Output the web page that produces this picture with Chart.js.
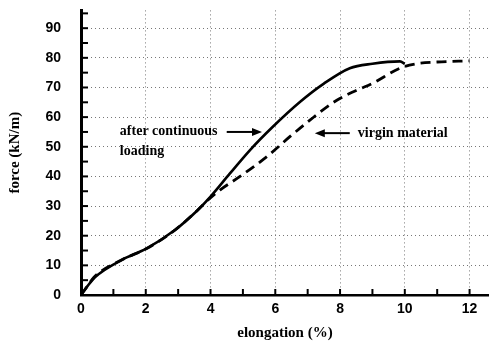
<!DOCTYPE html>
<html>
<head>
<meta charset="utf-8">
<script src="https://cdn.jsdelivr.net/npm/chart.js@4"></script>
<style>
  html, body { margin: 0; padding: 0; background: #fff; }
  #wrap { width: 489px; height: 345px; }
</style>
</head>
<body>
<div id="wrap"><canvas id="grafico"></canvas></div>
<script>
// values
var elongAfter = [0, 0.2, 0.43, 1.25, 2.03, 2.9, 3.6, 4.0, 4.6, 5.22, 5.9, 6.76, 7.5, 8.3, 9.0, 9.85, 10.0];
var forceAfter = [0, 3, 6, 11.8, 15.7, 21.9, 28.6, 33.2, 41, 48.9, 56.5, 65.1, 71.3, 76.5, 78, 78.8, 78];

var elongVirgin = [0, 0.2, 0.4, 1.25, 2.03, 2.9, 3.6, 3.95, 4.29, 4.9, 5.73, 6.45, 7.07, 7.9, 8.5, 9.0, 9.85, 10.36, 11.0, 12.0];
var forceVirgin = [0, 3, 6, 11.8, 15.7, 21.9, 28.6, 32.3, 35.4, 39.9, 46.6, 53.4, 59, 65.7, 69, 71.4, 76.5, 78, 78.6, 79];

var xTickLabels = [0, 2, 4, 6, 8, 10, 12];
var yTickLabels = [0, 10, 20, 30, 40, 50, 60, 70, 80, 90];

function toPoints(xs, ys) {
    var out = [];
    xs.forEach(function (x, i) { out.push({ x: x, y: ys[i] }); });
    return out;
}

// inward tick marks + annotations
var extra = {
    id: 'extra',
    afterDraw: function (chart) {
        var ctx = chart.ctx;
        var xs = chart.scales.x, ys = chart.scales.y;
        var area = chart.chartArea;
        ctx.save();
        ctx.strokeStyle = '#000';
        ctx.lineWidth = 2;
        xs.ticks.forEach(function (t) {
            var px = xs.getPixelForValue(t.value);
            ctx.beginPath();
            ctx.moveTo(px, area.bottom);
            ctx.lineTo(px, area.bottom - 6);
            ctx.stroke();
        });
        ys.ticks.forEach(function (t) {
            var py = ys.getPixelForValue(t.value);
            ctx.beginPath();
            ctx.moveTo(area.left, py);
            ctx.lineTo(area.left + 7, py);
            ctx.stroke();
        });

        ctx.fillStyle = '#000';
        ctx.font = 'bold 14px "Liberation Serif"';
        ctx.textBaseline = 'middle';
        ctx.textAlign = 'left';
        ctx.fillText('after continuous', xs.getPixelForValue(1.2), ys.getPixelForValue(55.3));
        ctx.fillText('loading', xs.getPixelForValue(1.2), ys.getPixelForValue(48.3));
        ctx.fillText('virgin material', xs.getPixelForValue(8.55), ys.getPixelForValue(54.6));

        function arrow(x1, x2, yv) {
            var a = xs.getPixelForValue(x1), b = xs.getPixelForValue(x2), y = ys.getPixelForValue(yv);
            var dir = b > a ? 1 : -1;
            ctx.lineWidth = 2;
            ctx.beginPath();
            ctx.moveTo(a, y);
            ctx.lineTo(b - dir * 8, y);
            ctx.stroke();
            ctx.beginPath();
            ctx.moveTo(b, y);
            ctx.lineTo(b - dir * 10, y - 4);
            ctx.lineTo(b - dir * 10, y + 4);
            ctx.closePath();
            ctx.fill();
        }
        arrow(4.5, 5.59, 55.0);
        arrow(8.3, 7.22, 54.6);
        ctx.restore();
    }
};

var myChart = new Chart(document.getElementById('grafico'), {
    type: 'line',
    data: {
        datasets: [{
            label: 'after continuous loading',
            data: toPoints(elongAfter, forceAfter),
            borderColor: '#000',
            borderWidth: 2.6,
            pointRadius: 0,
            cubicInterpolationMode: 'monotone',
            fill: false
        }, {
            label: 'virgin material',
            data: toPoints(elongVirgin, forceVirgin),
            borderColor: '#000',
            borderWidth: 2.8,
            borderDash: [10, 6],
            pointRadius: 0,
            cubicInterpolationMode: 'monotone',
            fill: false
        }]
    },
    options: {
        responsive: true,
        maintainAspectRatio: false,
        animation: false,
        layout: { autoPadding: false, padding: { top: 10, right: 0, left: 0, bottom: 0 } },
        plugins: {
            legend: { display: false },
            tooltip: { enabled: false }
        },
        scales: {
            x: {
                type: 'linear',
                min: 0,
                max: 12.6,
                afterFit: function (scale) { scale.height = 50; },
                afterBuildTicks: function (scale) {
                    var t = [];
                    for (var v = 0; v <= 12; v++) t.push({ value: v });
                    scale.ticks = t;
                },
                ticks: {
                    padding: 6,
                    color: '#000',
                    font: { family: 'Liberation Sans', weight: 'bold', size: 14 },
                    callback: function (v) { return xTickLabels.indexOf(v) >= 0 ? String(v) : ''; },
                    maxRotation: 0,
                    autoSkip: false
                },
                grid: {
                    drawTicks: false,
                    color: function (c) { return (c.tick && c.tick.value % 2 === 0 && c.tick.value > 0) ? '#777' : 'rgba(0,0,0,0)'; },
                    lineWidth: 1
                },
                border: { color: '#000', width: 2.5, dash: [1, 3] },
                title: {
                    display: true,
                    text: 'elongation (%)',
                    color: '#000',
                    font: { family: 'Liberation Serif', weight: 'bold', size: 15 },
                    padding: { top: 0, bottom: 3 }
                }
            },
            y: {
                min: 0,
                max: 96,
                afterFit: function (scale) { scale.width = 81; },
                afterBuildTicks: function (scale) {
                    var t = [];
                    for (var v = 0; v <= 95; v += 5) t.push({ value: v });
                    scale.ticks = t;
                },
                ticks: {
                    padding: 2,
                    color: '#000',
                    font: { family: 'Liberation Sans', weight: 'bold', size: 14 },
                    callback: function (v) { return yTickLabels.indexOf(v) >= 0 ? String(v) : ''; },
                    autoSkip: false
                },
                grid: {
                    drawTicks: true,
                    tickLength: 18,
                    tickColor: 'rgba(0,0,0,0)',
                    color: function (c) { return (c.tick && c.tick.value % 10 === 0 && c.tick.value > 0) ? '#777' : 'rgba(0,0,0,0)'; },
                    lineWidth: 1
                },
                border: { color: '#000', width: 3, dash: [1, 3] },
                title: {
                    display: true,
                    text: 'force (kN/m)',
                    color: '#000',
                    font: { family: 'Liberation Serif', weight: 'bold', size: 15 },
                    padding: { top: 6, bottom: 0 }
                }
            }
        }
    },
    plugins: [extra]
});
</script>
</body>
</html>
